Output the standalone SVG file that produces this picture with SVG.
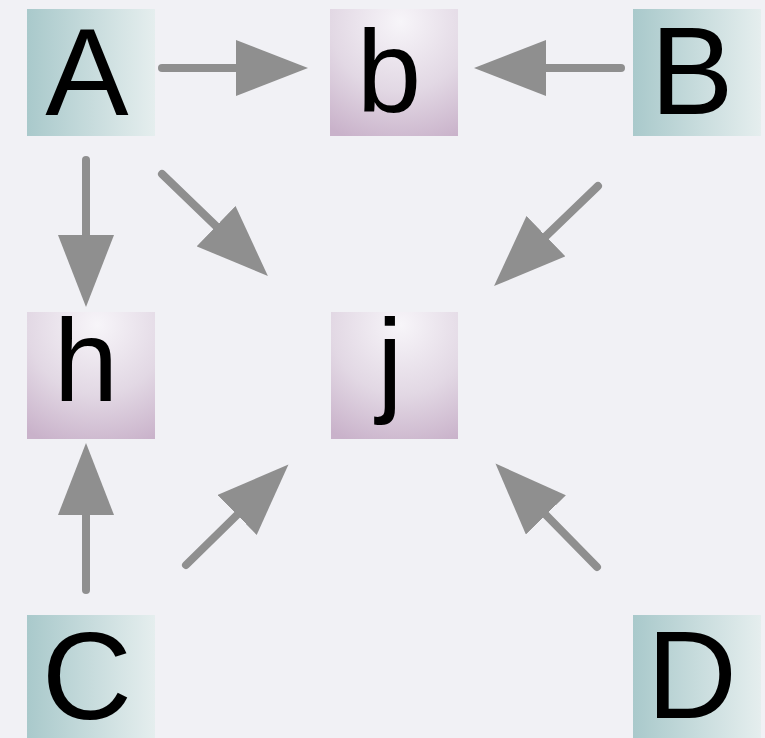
<svg xmlns="http://www.w3.org/2000/svg" width="765" height="738" viewBox="0 0 765 738">
  <style>
    .up { fill: url(#gUp); }
    .lo { fill: url(#gLo); }
    .t { font-family: "Liberation Sans", Arial, sans-serif; fill: #000; text-anchor: middle; }
    .tu { font-size: 125px; }
    .tl { font-size: 116px; }
    .edge { stroke: #8f8f8f; stroke-width: 8; stroke-linecap: round; fill: none; marker-end: url(#ah); }
  </style>
  <defs>
    <linearGradient id="gUp" x1="0" y1="0" x2="1" y2="0">
      <stop offset="0" stop-color="#a9c9cb"/>
      <stop offset="1" stop-color="#e5eeee"/>
    </linearGradient>
    <radialGradient id="gLo" cx="0.55" cy="0.1" r="1" fx="0.55" fy="0.1">
      <stop offset="0" stop-color="#f7f5f9"/>
      <stop offset="0.55" stop-color="#e2d8e4"/>
      <stop offset="1" stop-color="#c9b2ca"/>
    </radialGradient>
    <marker id="ah" markerUnits="userSpaceOnUse" markerWidth="74" markerHeight="56" viewBox="0 0 74 56" refX="2" refY="28" orient="auto">
      <path d="M0,0 L72,28 L0,56 z" fill="#8f8f8f"/>
    </marker>
  </defs>
  <rect width="765" height="738" fill="#f1f1f5"/>
  <g id="connectors">
    <line class="edge" x1="162" y1="68" x2="238" y2="68"/>
    <line class="edge" x1="621" y1="68" x2="544" y2="68"/>
    <line class="edge" x1="86" y1="160" x2="86" y2="237"/>
    <line class="edge" x1="86" y1="590" x2="86" y2="513"/>
    <line class="edge" x1="162" y1="174" x2="217.5" y2="227.5"/>
    <line class="edge" x1="598" y1="186" x2="544.5" y2="237.5"/>
    <line class="edge" x1="186" y1="565" x2="238.5" y2="513.5"/>
    <line class="edge" x1="597" y1="567" x2="544.5" y2="513.5"/>
  </g>
  <g id="node-A"><rect class="up" x="27" y="9" width="128" height="127"/><text class="t tu" x="87" y="115">A</text></g>
  <g id="node-b"><rect class="lo" x="330" y="9" width="128" height="127"/><text class="t tl" x="389" y="112">b</text></g>
  <g id="node-B"><rect class="up" x="633" y="9" width="128" height="127"/><text class="t tu" x="692" y="114">B</text></g>
  <g id="node-h"><rect class="lo" x="27" y="312" width="128" height="127"/><text class="t tl" x="86" y="401">h</text></g>
  <g id="node-j"><rect class="lo" x="331" y="312" width="127" height="127"/><text class="t tl" x="390" y="401">j</text></g>
  <g id="node-C"><rect class="up" x="27" y="615" width="128" height="127"/><text class="t tu" x="87" y="719">C</text></g>
  <g id="node-D"><rect class="up" x="633" y="615" width="128" height="127"/><text class="t tu" x="692" y="718">D</text></g>
</svg>
